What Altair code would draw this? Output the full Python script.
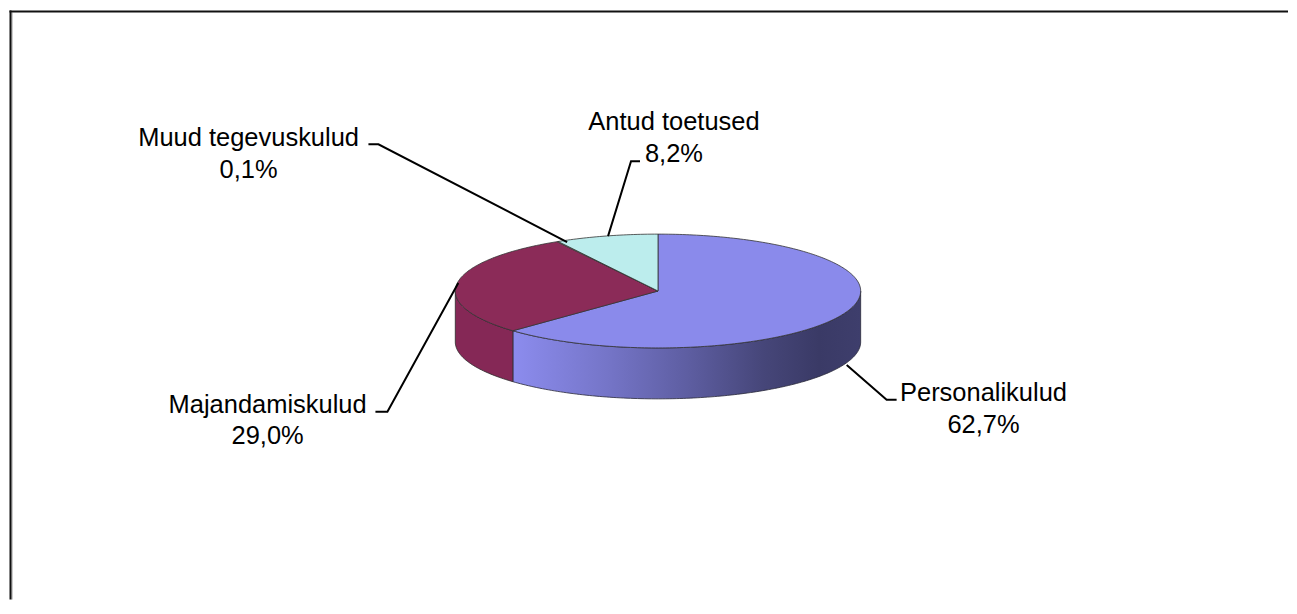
import math
import altair as alt
import pandas as pd

# ---- data ----
categories = ["Personalikulud", "Majandamiskulud", "Muud tegevuskulud", "Antud toetused"]
shares = [62.7, 29.0, 0.1, 8.2]
value_labels = ["62,7%", "29,0%", "0,1%", "8,2%"]

# ---- styling / layout ----
top_colors = ["#8A8AEB", "#8B2B58", "#F4F4C4", "#BCEDED"]
side_color_maj = "#852856"
W, H = 1281, 592
CX, CY, RX, RY, DEPTH = 650, 283, 203, 57, 51

# label anchor positions (center x, baseline y of first line) and leader lines
label_pos = {
    "Personalikulud": (976, 392.7),
    "Majandamiskulud": (259, 404.7),
    "Muud tegevuskulud": (240, 138),
    "Antud toetused": (666, 121.3),
}
leaders = {
    "Personalikulud": [(839, 357), (879, 392), (889, 392)],
    "Majandamiskulud": [(367, 404), (379, 404), (450, 275)],
    "Muud tegevuskulud": [(360, 136), (370, 136), (559, 234)],
    "Antud toetused": [(632, 153), (623, 153), (600, 228)],
}


def pt(phi_deg, dy=0.0):
    r = math.radians(phi_deg)
    return CX + RX * math.sin(r), CY - RY * math.cos(r) + dy


total = sum(shares)
starts, ends = [], []
acc = 0.0
for s in shares:
    starts.append(acc / total * 360)
    acc += s
    ends.append(acc / total * 360)

# top faces
top_rows = []
for k, cat in enumerate(categories):
    a0, a1 = starts[k], ends[k]
    n = max(2, int(a1 - a0) + 1)
    pts = [(CX, CY)] + [pt(a0 + (a1 - a0) * j / n) for j in range(n + 1)] + [(CX, CY)]
    for i, (x, y) in enumerate(pts):
        top_rows.append(dict(cat=cat, i=i, x=x, y=y))
top_df = pd.DataFrame(top_rows)

# side walls (front half only: 90..270 degrees)
def wall(k):
    lo, hi = max(starts[k], 90), min(ends[k], 270)
    if hi <= lo:
        return []
    n = max(2, int(hi - lo) + 1)
    upper = [pt(lo + (hi - lo) * j / n) for j in range(n + 1)]
    lower = [pt(hi - (hi - lo) * j / n, DEPTH) for j in range(n + 1)]
    pts = upper + lower + [upper[0]]
    return [dict(cat=categories[k], i=i, x=x, y=y) for i, (x, y) in enumerate(pts)]

wall_p = pd.DataFrame(wall(0))
wall_m = pd.DataFrame(wall(1))

xs = alt.Scale(domain=[0, W], nice=False, zero=False)
ys = alt.Scale(domain=[0, H], nice=False, zero=False, reverse=True)

def poly_enc():
    return dict(
        x=alt.X("x:Q", scale=xs, axis=None),
        y=alt.Y("y:Q", scale=ys, axis=None),
        order=alt.Order("i:Q"),
        detail="cat:N",
    )

grad = alt.LinearGradient(
    gradient="linear",
    x1=0, x2=1, y1=0, y2=0,
    stops=[
        alt.GradientStop(offset=0.0, color="#8C8CEE"),
        alt.GradientStop(offset=0.27, color="#7575C8"),
        alt.GradientStop(offset=0.5, color="#5E5EA2"),
        alt.GradientStop(offset=0.72, color="#464679"),
        alt.GradientStop(offset=0.88, color="#3A3A66"),
        alt.GradientStop(offset=1.0, color="#3E3E6C"),
    ],
)

wall_p_layer = alt.Chart(wall_p).mark_line(
    fill=grad, stroke="#2a2a3a", strokeWidth=0.8
).encode(**poly_enc())

wall_m_layer = alt.Chart(wall_m).mark_line(
    fill=side_color_maj, stroke="#2a2a2a", strokeWidth=0.8
).encode(**poly_enc())

top_layer = alt.Chart(top_df).mark_line(stroke="#333333", strokeWidth=0.8).encode(
    fill=alt.Fill("cat:N", scale=alt.Scale(domain=categories, range=top_colors), legend=None),
    **poly_enc(),
)

# leader lines
lead_rows = []
for cat, pts in leaders.items():
    for i, (x, y) in enumerate(pts):
        lead_rows.append(dict(cat=cat, i=i, x=x, y=y))
lead_df = pd.DataFrame(lead_rows)
lead_layer = alt.Chart(lead_df).mark_line(color="#000000", strokeWidth=2).encode(**poly_enc())

# labels
text_rows = []
for cat, val in zip(categories, value_labels):
    x, y = label_pos[cat]
    text_rows.append(dict(t=cat, x=x, y=y))
    text_rows.append(dict(t=val, x=x, y=y + 32))
text_df = pd.DataFrame(text_rows)
text_layer = alt.Chart(text_df).mark_text(
    font="Liberation Sans", fontSize=25.5, align="center", baseline="alphabetic", color="#000000"
).encode(
    x=alt.X("x:Q", scale=xs, axis=None),
    y=alt.Y("y:Q", scale=ys, axis=None),
    text="t:N",
)

# chart frame (top and left edges visible in the reference)
frame_left = alt.Chart().mark_rule(color="#111111", strokeWidth=2).encode(
    x=alt.value(1.5), y=alt.value(2), y2=alt.value(H)
)
frame_left_shadow = alt.Chart().mark_rule(color="#9a9a9a", strokeWidth=1).encode(
    x=alt.value(3), y=alt.value(4), y2=alt.value(H)
)
frame_top = alt.Chart().mark_rule(color="#111111", strokeWidth=2).encode(
    x=alt.value(0.5), x2=alt.value(W), y=alt.value(3)
)

chart = alt.layer(
    wall_p_layer, wall_m_layer, top_layer, lead_layer, text_layer,
    frame_left_shadow, frame_left, frame_top
).properties(width=W, height=H, padding=0).configure_view(strokeWidth=0)

chart.save("out.html", embed_options={"renderer": "svg", "actions": False})
